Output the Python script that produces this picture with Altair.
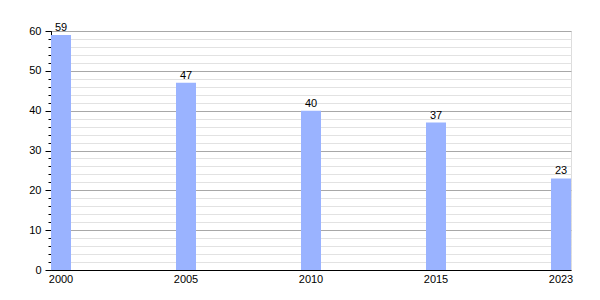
import altair as alt
import pandas as pd

years = ["2000", "2005", "2010", "2015", "2023"]
values = [59, 47, 40, 37, 23]
major_ticks = [0, 10, 20, 30, 40, 50, 60]
minor_ticks = list(range(0, 61, 2))

df = pd.DataFrame({"year": years, "value": values})

FONT = "Liberation Sans"
x = alt.X("year:N", sort=years, title=None,
          scale=alt.Scale(paddingInner=0.84, paddingOuter=0),
          axis=alt.Axis(labelAngle=0, ticks=False, domainColor="black", labelColor="black",
                        labelFont=FONT, labelFontSize=11, labelPadding=3, grid=False))
yscale = alt.Scale(domain=[0, 60], nice=False)

base = alt.Chart(df)

minor = base.mark_bar(opacity=0).encode(
    x=x,
    y=alt.Y("value:Q", scale=yscale, title=None,
            axis=alt.Axis(orient="left", values=minor_ticks, labels=False, grid=True,
                          gridColor="#e2e2e2", gridWidth=1, tickColor="black", tickSize=3,
                          domain=False)),
)

bars = base.mark_bar(color="#9AB3FF").encode(
    x=x,
    y=alt.Y("value:Q", scale=yscale, title=None,
            axis=alt.Axis(orient="left", values=major_ticks, grid=True, gridColor="#a8a8a8",
                          gridWidth=1, tickColor="black", tickSize=6, domainColor="black",
                          labelColor="black", labelFont=FONT, labelFontSize=11, labelPadding=4)),
)

labels = base.mark_text(baseline="bottom", dy=-2, font=FONT, fontSize=11, color="black").encode(
    x=x,
    y=alt.Y("value:Q", scale=yscale, axis=None),
    text="value:Q",
)

chart = alt.layer(minor, bars, labels).resolve_axis(y="independent").properties(
    width=520, height=239,
    autosize=alt.AutoSizeParams(type="none"),
    padding={"left": 51, "top": 31, "right": 29, "bottom": 30},
).configure_view(stroke=None).configure(background="white")

chart.save("out.html", embed_options={"renderer": "svg", "actions": False})
